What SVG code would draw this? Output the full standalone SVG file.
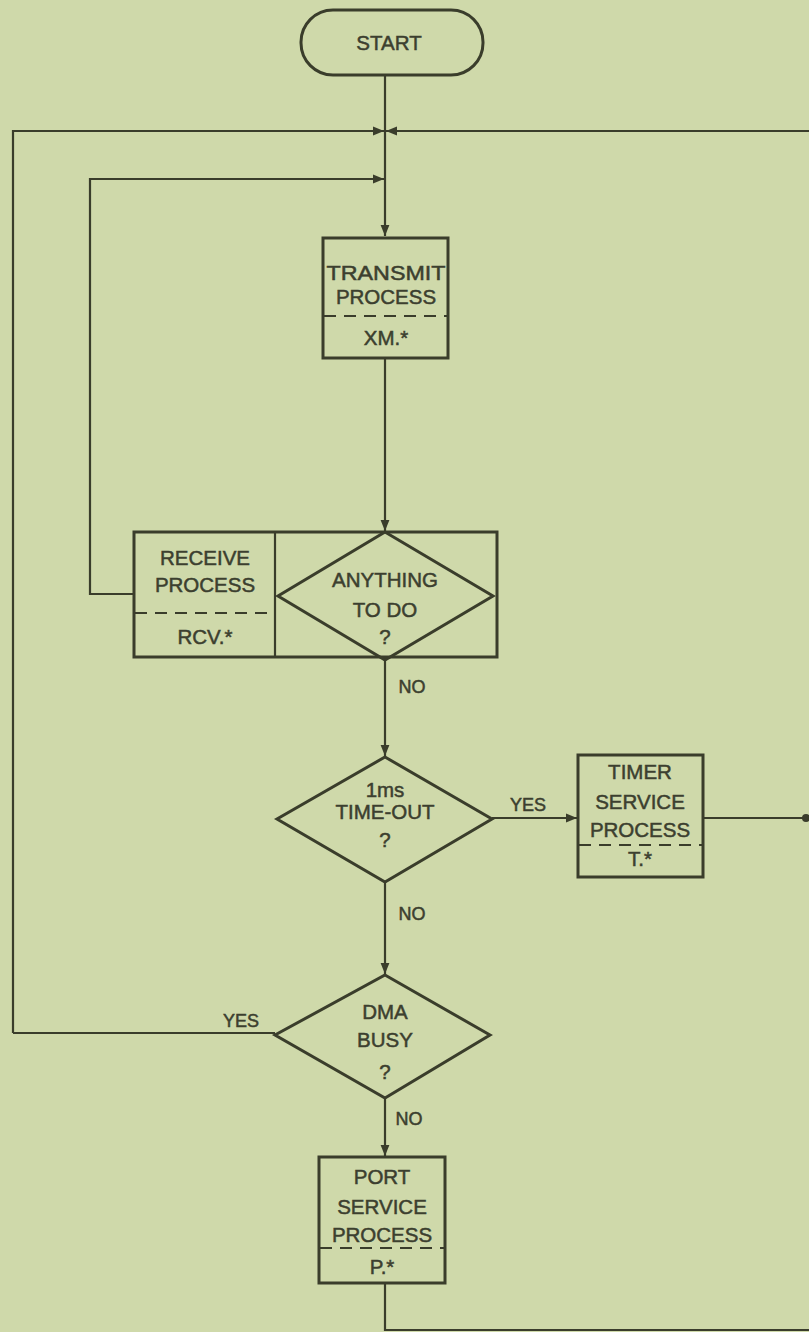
<svg xmlns="http://www.w3.org/2000/svg" width="809" height="1332" viewBox="0 0 809 1332">
<style>
.ln{fill:none;stroke:#3a3d2b;stroke-width:2.2}
.box{fill:none;stroke:#3a3d2b;stroke-width:3}
.dash{fill:none;stroke:#3a3d2b;stroke-width:1.8;stroke-dasharray:12 8}
text{font-family:"Liberation Sans",Arial,sans-serif;font-size:20.5px;fill:#3c3f2f;stroke:#3c3f2f;stroke-width:0.5;text-anchor:middle}
.lbl{font-size:18px}
</style>
<defs>
<marker id="ah" viewBox="0 0 10 10" refX="10" refY="5" markerWidth="11" markerHeight="11" markerUnits="userSpaceOnUse" orient="auto">
<path d="M0,1 L10,5 L0,9 z" fill="#3a3d2b"/>
</marker>
</defs>
<rect width="809" height="1332" fill="#cfd9aa"/>

<g id="connectors">
<line class="ln" x1="385" y1="75" x2="385" y2="236" marker-end="url(#ah)"/>
<polyline class="ln" points="13,1033 13,131 384,131" marker-end="url(#ah)"/>
<line class="ln" x1="809" y1="131" x2="386" y2="131" marker-end="url(#ah)"/>
<polyline class="ln" points="135,594 90,594 90,179 384,179" marker-end="url(#ah)"/>
<line class="ln" x1="385" y1="358" x2="385" y2="531" marker-end="url(#ah)"/>
<line class="ln" x1="385" y1="658" x2="385" y2="756" marker-end="url(#ah)"/>
<line class="ln" x1="492" y1="818" x2="577" y2="818" marker-end="url(#ah)"/>
<line class="ln" x1="703" y1="818" x2="809" y2="818"/>
<circle cx="806" cy="818" r="4" fill="#3a3d2b"/>
<line class="ln" x1="385" y1="882" x2="385" y2="974" marker-end="url(#ah)"/>
<line class="ln" x1="275" y1="1033" x2="13" y2="1033"/>
<line class="ln" x1="385" y1="1097" x2="385" y2="1156" marker-end="url(#ah)"/>
<polyline class="ln" points="385,1283 385,1330 809,1330"/>
<text class="lbl" x="412" y="693">NO</text>
<text class="lbl" x="528" y="811">YES</text>
<text class="lbl" x="412" y="920">NO</text>
<text class="lbl" x="241" y="1027">YES</text>
<text class="lbl" x="409" y="1125">NO</text>
</g>

<g id="start">
<rect class="box" x="301" y="10" width="182" height="65" rx="32" ry="32"/>
<text x="389" y="50">START</text>
</g>

<g id="transmit">
<rect class="box" x="323" y="238" width="125" height="120"/>
<line class="dash" x1="324" y1="316" x2="447" y2="316"/>
<text x="386" y="280" textLength="119" lengthAdjust="spacingAndGlyphs">TRANSMIT</text>
<text x="386" y="304">PROCESS</text>
<text x="386" y="345">XM.*</text>
</g>

<g id="receive">
<rect class="box" x="134" y="532" width="363" height="125"/>
<line class="ln" x1="275" y1="532" x2="275" y2="657"/>
<line class="dash" x1="135" y1="613" x2="274" y2="613"/>
<text x="205" y="565">RECEIVE</text>
<text x="205" y="592">PROCESS</text>
<text x="205" y="644">RCV.*</text>
</g>

<g id="anything">
<polygon class="box" points="385,532 493,596 385,660 278,596"/>
<text x="385" y="587">ANYTHING</text>
<text x="385" y="617">TO DO</text>
<text x="385" y="644">?</text>
</g>

<g id="timeout">
<polygon class="box" points="385,757 492,819 385,882 277,819"/>
<text x="385" y="797">1ms</text>
<text x="385" y="819">TIME-OUT</text>
<text x="385" y="847">?</text>
</g>

<g id="timer">
<rect class="box" x="578" y="755" width="125" height="122"/>
<line class="dash" x1="579" y1="845" x2="702" y2="845"/>
<text x="640" y="779">TIMER</text>
<text x="640" y="809">SERVICE</text>
<text x="640" y="837">PROCESS</text>
<text x="640" y="866">T.*</text>
</g>

<g id="dma">
<polygon class="box" points="385,975 490,1035 385,1098 275,1035"/>
<text x="385" y="1019">DMA</text>
<text x="385" y="1047">BUSY</text>
<text x="385" y="1079">?</text>
</g>

<g id="port">
<rect class="box" x="319" y="1157" width="126" height="126"/>
<line class="dash" x1="320" y1="1248" x2="444" y2="1248"/>
<text x="382" y="1184">PORT</text>
<text x="382" y="1214">SERVICE</text>
<text x="382" y="1242">PROCESS</text>
<text x="382" y="1274">P.*</text>
</g>
</svg>
